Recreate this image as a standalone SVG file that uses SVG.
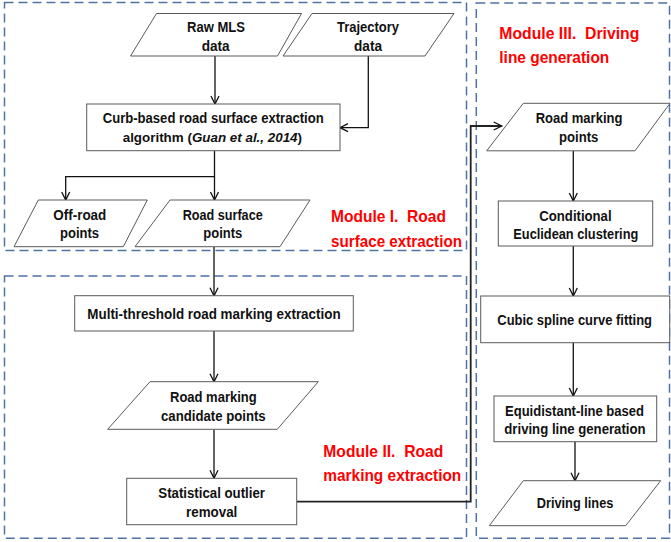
<svg xmlns="http://www.w3.org/2000/svg" width="671" height="542" viewBox="0 0 671 542">
<style>
.mod{fill:none;stroke:#4f73a6;stroke-width:1.5;stroke-dasharray:9 5}
.nd{fill:#fff;stroke:#5a5a5a;stroke-width:1}
.t{font-family:"Liberation Sans",Arial,sans-serif;font-size:14px;font-weight:700;fill:#111}
.it{font-style:italic}
.lbl{font-family:"Liberation Sans",Arial,sans-serif;font-size:16.5px;font-weight:700;fill:#ff0000}
.cn{fill:none;stroke:#111;stroke-width:1.3}
</style>
<defs>
<marker id="ah" markerUnits="userSpaceOnUse" markerWidth="12" markerHeight="12" refX="9" refY="5" orient="auto">
<path d="M1,1 L9,5 L1,9" fill="none" stroke="#111" stroke-width="1.3"/>
</marker>
</defs>
<rect fill="#fff" x="0" y="0" width="671" height="542"/>
<g id="modules">
<rect class="mod" x="4.5" y="2.5" width="462" height="248"/>
<rect class="mod" x="4.5" y="276" width="462" height="262.3"/>
<rect class="mod" x="476.3" y="3" width="193.2" height="535.3"/>
<text class="lbl" xml:space="preserve" x="331" y="222" textLength="115" lengthAdjust="spacingAndGlyphs">Module I.  Road</text>
<text class="lbl" x="331" y="246.7" textLength="131" lengthAdjust="spacingAndGlyphs">surface extraction</text>
<text class="lbl" xml:space="preserve" x="323.3" y="456.7" textLength="120" lengthAdjust="spacingAndGlyphs">Module II.  Road</text>
<text class="lbl" x="323.3" y="480.5" textLength="138" lengthAdjust="spacingAndGlyphs">marking extraction</text>
<text class="lbl" xml:space="preserve" x="499.3" y="39.3" textLength="140" lengthAdjust="spacingAndGlyphs">Module III.  Driving</text>
<text class="lbl" x="499.3" y="63.3" textLength="110" lengthAdjust="spacingAndGlyphs">line generation</text>
</g>
<g id="connectors">
<path class="cn" marker-end="url(#ah)" d="M215,56 V104"/>
<path class="cn" marker-end="url(#ah)" d="M368.3,56 V127.7 H340"/>
<path class="cn" marker-end="url(#ah)" d="M214.5,150.7 V200"/>
<path class="cn" marker-end="url(#ah)" d="M214.5,176.7 H65.7 V200"/>
<path class="cn" marker-end="url(#ah)" d="M214,246.7 V295.7"/>
<path class="cn" marker-end="url(#ah)" d="M214,331 V381.7"/>
<path class="cn" marker-end="url(#ah)" d="M214,429.3 V478.3"/>
<path class="cn" marker-end="url(#ah)" style="stroke:#222;stroke-width:1.8" d="M296.7,501.7 H470.7 V126 H501.7"/>
<path class="cn" marker-end="url(#ah)" d="M573.3,150.8 V201"/>
<path class="cn" marker-end="url(#ah)" d="M573.3,246 V296"/>
<path class="cn" marker-end="url(#ah)" d="M573.3,342.7 V396"/>
<path class="cn" marker-end="url(#ah)" d="M575,441.7 V480.7"/>
</g>
<g id="raw-mls">
<polygon class="nd" points="156.5,13.5 301.5,13.5 277.5,56 130.5,56"/>
<text class="t" x="187" y="32.3" textLength="58" lengthAdjust="spacingAndGlyphs">Raw MLS</text>
<text class="t" x="201.7" y="50.7" textLength="28" lengthAdjust="spacingAndGlyphs">data</text>
</g>
<g id="trajectory">
<polygon class="nd" points="312,13.5 454,13.5 425,56 283,56"/>
<text class="t" x="337" y="32.3" textLength="62" lengthAdjust="spacingAndGlyphs">Trajectory</text>
<text class="t" x="354" y="50.7" textLength="28" lengthAdjust="spacingAndGlyphs">data</text>
</g>
<g id="curb">
<rect class="nd" x="86.7" y="104" width="253.3" height="46.7"/>
<text class="t" x="102.7" y="123" textLength="221" lengthAdjust="spacingAndGlyphs">Curb-based road surface extraction</text>
<text class="t" x="122.7" y="142" style="font-size:13.4px">algorithm (<tspan class="it">Guan et al., 2014</tspan>)</text>
</g>
<g id="off-road">
<polygon class="nd" points="38.3,200 147.3,200 123.3,246.7 14,246.7"/>
<text class="t" x="53.3" y="220" textLength="53" lengthAdjust="spacingAndGlyphs">Off-road</text>
<text class="t" x="60" y="237.5" textLength="39" lengthAdjust="spacingAndGlyphs">points</text>
</g>
<g id="road-surface">
<polygon class="nd" points="170,200 310,200 280,246.7 135,246.7"/>
<text class="t" x="182.7" y="220" textLength="80" lengthAdjust="spacingAndGlyphs">Road surface</text>
<text class="t" x="203.3" y="237.5" textLength="39" lengthAdjust="spacingAndGlyphs">points</text>
</g>
<g id="multi-threshold">
<rect class="nd" x="74.7" y="295.7" width="278.6" height="35.3"/>
<text class="t" x="87.3" y="319" textLength="253.3" lengthAdjust="spacingAndGlyphs">Multi-threshold road marking extraction</text>
</g>
<g id="candidate">
<polygon class="nd" points="150,381.7 318.3,381.7 277.3,429.3 107.7,429.3"/>
<text class="t" x="170" y="401.7" textLength="86.7" lengthAdjust="spacingAndGlyphs">Road marking</text>
<text class="t" x="161" y="420.5" textLength="104.7" lengthAdjust="spacingAndGlyphs">candidate points</text>
</g>
<g id="outlier">
<rect class="nd" x="126.7" y="478.3" width="170" height="46.4"/>
<text class="t" x="158.3" y="497.7" textLength="106.7" lengthAdjust="spacingAndGlyphs">Statistical outlier</text>
<text class="t" x="186" y="516.7" textLength="51.3" lengthAdjust="spacingAndGlyphs">removal</text>
</g>
<g id="road-marking-points">
<polygon class="nd" points="523.3,103.3 670,103.3 635,150.8 486.7,150.8"/>
<text class="t" x="535.7" y="123.3" textLength="86.7" lengthAdjust="spacingAndGlyphs">Road marking</text>
<text class="t" x="559" y="141.7" textLength="39.3" lengthAdjust="spacingAndGlyphs">points</text>
</g>
<g id="clustering">
<rect class="nd" x="498.3" y="201" width="154.4" height="45"/>
<text class="t" x="539.3" y="221" textLength="72.3" lengthAdjust="spacingAndGlyphs">Conditional</text>
<text class="t" x="513.3" y="239.3" textLength="125" lengthAdjust="spacingAndGlyphs">Euclidean clustering</text>
</g>
<g id="spline">
<rect class="nd" x="480.7" y="296" width="189" height="46.7"/>
<text class="t" x="497.3" y="325" textLength="154.7" lengthAdjust="spacingAndGlyphs">Cubic spline curve fitting</text>
</g>
<g id="equidistant">
<rect class="nd" x="494" y="396" width="162.7" height="45.7"/>
<text class="t" x="505" y="416" textLength="139" lengthAdjust="spacingAndGlyphs">Equidistant-line based</text>
<text class="t" x="504.3" y="434" textLength="141.3" lengthAdjust="spacingAndGlyphs">driving line generation</text>
</g>
<g id="driving-lines">
<polygon class="nd" points="523.3,480.7 660.7,480.7 625.7,525.7 489.3,525.7"/>
<text class="t" x="536.7" y="508.3" textLength="76.7" lengthAdjust="spacingAndGlyphs">Driving lines</text>
</g>
</svg>
